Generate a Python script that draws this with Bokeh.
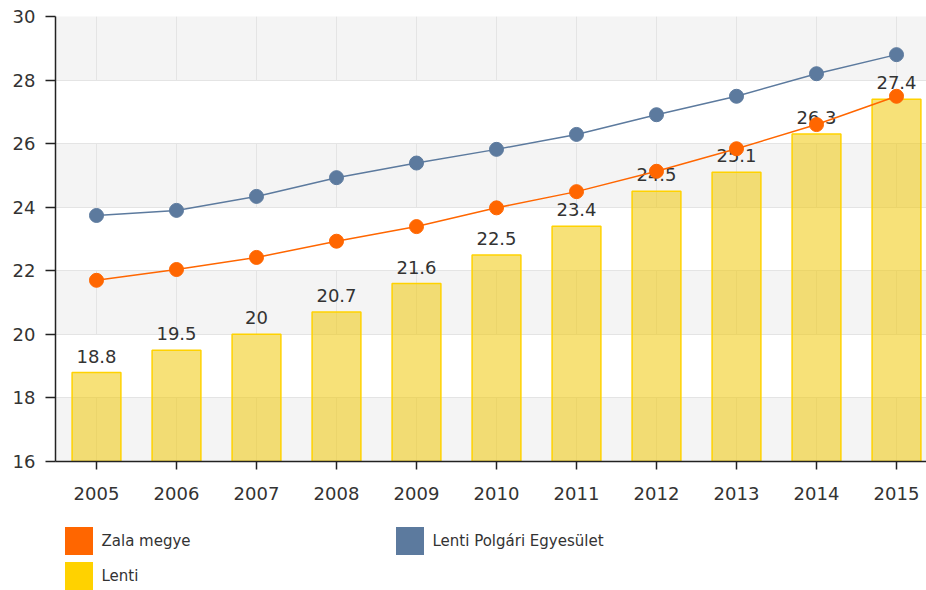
from bokeh.plotting import figure
from bokeh.layouts import column
from bokeh.models import (ColumnDataSource, Range1d, FixedTicker, Legend, LegendItem)
from bokeh.core.properties import value
from bokeh.embed import file_html
from bokeh.resources import INLINE

years = [2005, 2006, 2007, 2008, 2009, 2010, 2011, 2012, 2013, 2014, 2015]
lenti = [18.8, 19.5, 20.0, 20.7, 21.6, 22.5, 23.4, 24.5, 25.1, 26.3, 27.4]
zala = [21.70, 22.04, 22.42, 22.93, 23.39, 23.98, 24.49, 25.13, 25.84, 26.60, 27.49]
lpe = [23.74, 23.90, 24.34, 24.93, 25.39, 25.82, 26.29, 26.91, 27.49, 28.20, 28.80]
y_ticks = [16, 18, 20, 22, 24, 26, 28, 30]
series_names = ["Zala megye", "Lenti", "Lenti Polgári Egyesület"]

ORANGE = "#FF6600"
BLUE = "#5C7A9E"
GOLD = "#FFD200"
BAR_FILL = "#F0C80A"
FONT = "DejaVu Sans"

src = ColumnDataSource(dict(
    year=years, lenti=lenti, zala=zala, lpe=lpe,
    label=[f"{v:g}" for v in lenti],
))

p = figure(width=926, height=510, output_backend="svg", toolbar_location=None,
           x_range=Range1d(2004.4875, 2015.375), y_range=Range1d(16, 30),
           min_border_left=55, min_border_top=16, min_border_right=0, min_border_bottom=49)
p.background_fill_color = "#F4F4F4"
p.border_fill_color = "white"
p.outline_line_color = None

# grids
p.ygrid.ticker = FixedTicker(ticks=y_ticks)
p.ygrid.grid_line_color = "#E4E4E4"
p.ygrid.band_fill_color = "white"
p.ygrid.band_fill_alpha = 1.0
p.xgrid.ticker = FixedTicker(ticks=years)
p.xgrid.grid_line_color = "#E4E4E4"

# axes
p.yaxis.ticker = FixedTicker(ticks=y_ticks)
p.xaxis.ticker = FixedTicker(ticks=years)
for ax in (p.xaxis[0], p.yaxis[0]):
    ax.axis_line_color = "#222222"
    ax.axis_line_width = 1.5
    ax.major_tick_line_color = "#222222"
    ax.major_tick_line_width = 1.5
    ax.minor_tick_line_color = None
    ax.major_tick_in = 0
    ax.major_label_text_font = FONT
    ax.major_label_text_font_size = "18px"
    ax.major_label_text_color = "#333333"
p.yaxis.major_tick_out = 10
p.yaxis.major_label_standoff = 10
p.xaxis.major_tick_out = 8
p.xaxis.major_label_standoff = 17

# bars
p.vbar(x="year", top="lenti", bottom=16, width=0.61, source=src,
       fill_color=BAR_FILL, fill_alpha=0.55, line_color=GOLD, line_width=1.5)

# bar labels
p.text(x="year", y="lenti", text="label", source=src,
       text_align="center", text_baseline="bottom", y_offset=-10,
       text_font=value(FONT), text_font_size=value("18px"), text_color="#333333")

# lines
p.line(x="year", y="zala", source=src, line_color=ORANGE, line_width=1.5)
p.scatter(x="year", y="zala", source=src, size=14, fill_color=ORANGE, line_color=ORANGE)
p.line(x="year", y="lpe", source=src, line_color=BLUE, line_width=1.5)
p.scatter(x="year", y="lpe", source=src, size=14, fill_color=BLUE, line_color=BLUE)

# ---- legend strip below the chart ----
lg = figure(width=926, height=80, output_backend="svg", toolbar_location=None,
            x_range=Range1d(2004.4875, 2015.375), y_range=Range1d(16, 30),
            x_axis_location=None, y_axis_location=None,
            min_border_left=0, min_border_right=0, min_border_top=0, min_border_bottom=0)
lg.grid.visible = False
lg.outline_line_color = None
lg.background_fill_color = "white"
lg.border_fill_color = "white"

# hidden zero-size quads, used only as solid legend swatches
swatches = {}
for name, col, field in zip(series_names, [ORANGE, GOLD, BLUE], ["zala", "lenti", "lpe"]):
    swatches[name] = lg.quad(left="year", right="year", top=field, bottom=field, source=src,
                             fill_color=col, line_color=None, visible=False)

legend = Legend(items=[LegendItem(label=n, renderers=[swatches[n]]) for n in series_names],
                orientation="vertical", ncols=2, location=(5.5, -3),
                glyph_width=35, glyph_height=35, label_standoff=6, label_width=290,
                spacing=0, padding=0, margin=0,
                label_text_font=FONT, label_text_font_size="15px",
                label_text_color="#333333",
                inactive_fill_alpha=0,
                border_line_alpha=0, background_fill_alpha=0)
lg.add_layout(legend, "center")

layout = column(p, lg, spacing=0)
open("out.html", "w").write(file_html(layout, INLINE))
